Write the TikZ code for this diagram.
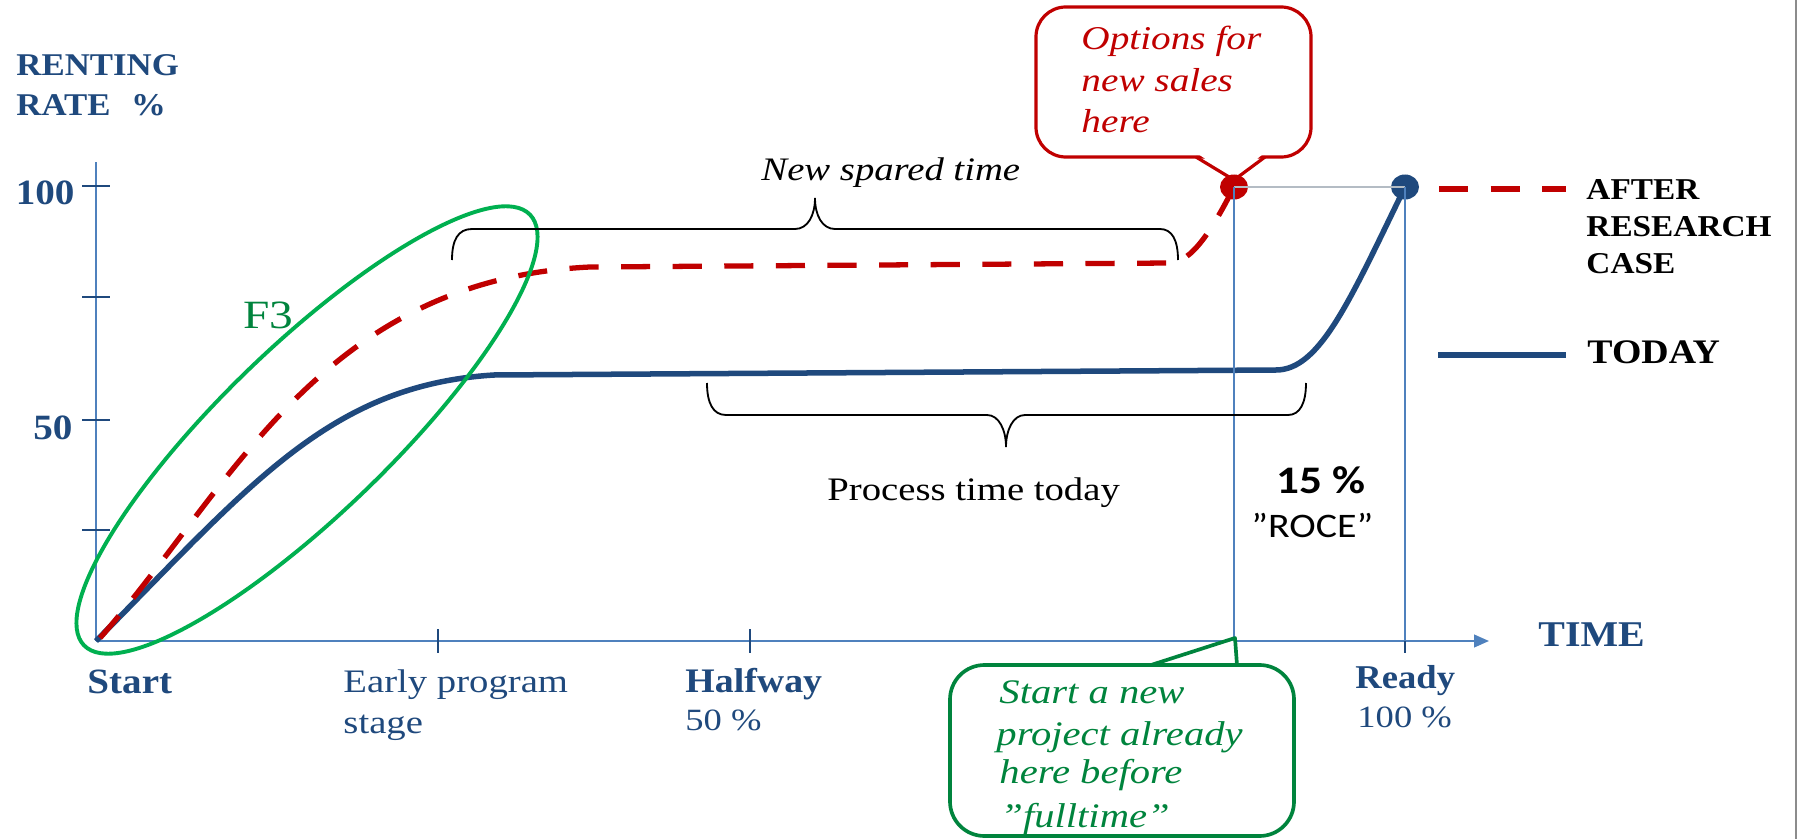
\documentclass[tikz,border=0pt]{standalone}
\usepackage{fontspec}
\setmainfont{Liberation Serif}[FakeStretch=1.18]
\newfontfamily\bfam{Liberation Serif}[FakeStretch=1.1]
\newfontfamily\calib{Carlito}[FakeStretch=1.16]
\usetikzlibrary{arrows.meta}
\definecolor{navy}{HTML}{1F497D}
\definecolor{axisblue}{HTML}{4F81BD}
\definecolor{darkred}{HTML}{C00000}
\definecolor{ellgreen}{HTML}{00B050}
\definecolor{txtgreen}{HTML}{00843D}
\definecolor{guidegray}{HTML}{B4BCC4}
\definecolor{edgegray}{HTML}{8C8C8C}
\newcommand\fsz[1]{\fontsize{#1}{#1}\selectfont}
\begin{document}
\begin{tikzpicture}[x=0.436pt,y=-0.436pt,
  lbl/.style={inner sep=0pt,anchor=base west},
  lble/.style={inner sep=0pt,anchor=base east},
  axisline/.style={axisblue,line width=0.9pt},
  tickline/.style={navy,line width=0.9pt},
  todaycurve/.style={navy,line width=2.4pt},
  aftercurve/.style={darkred,line width=2.3pt,dash pattern=on 12.7pt off 9.8pt},
  bracestyle/.style={black,line width=0.8pt},
  guide/.style={axisblue,line width=0.7pt},
  redcall/.style={darkred,line width=1.4pt},
  greencall/.style={txtgreen,line width=1.6pt},
  axislbl/.style={lbl,navy,font=\bfam\bfseries\fsz{15.5}},
  ticklbl/.style={lbl,navy,font=\fsz{14.3}},
  pctlbl/.style={lbl,navy,font=\fsz{13.5}},
  legendlbl/.style={lbl,black,font=\bfam\bfseries\fsz{13.2}},
  redtxt/.style={lbl,darkred,font=\itshape\fsz{14.5}},
  greentxt/.style={lbl,txtgreen,font=\itshape\fsz{15}}]
\fill[white] (0,0) rectangle (1798,839);
\useasboundingbox (0,0) rectangle (1798,839);
% slide edge
\draw[edgegray,line width=0.9pt] (1796,0) -- (1796,839);

% coordinates
\coordinate (org) at (96,641);
\coordinate (ytop) at (96,162);
\coordinate (xend) at (1489,641);
\coordinate (rdot) at (1234,187);
\coordinate (bdot) at (1405,187);
\coordinate (rfoot) at (1234,641);
\coordinate (bfoot) at (1405,641);

% axes
\draw[axisline] (org) -- (ytop);
\draw[axisline,-{Triangle[length=6.5pt,width=5.5pt]}] (org) -- (xend);
\foreach \yy in {186,297,420,530} \draw[tickline] (82,\yy) -- (110,\yy);
\foreach \xx in {438,750,1405} \draw[tickline] (\xx,629) -- (\xx,653);

% y-axis labels
\node[lbl,navy,font=\bfam\bfseries\fsz{13.8}] (ylab1) at (16,76) {RENTING};
\node[lbl,navy,font=\bfam\bfseries\fsz{13.8}] (ylab2) at (16,116) {RATE\hspace{9pt}\%};
\node[lble,navy,font=\bfam\bfseries\fsz{15.5}] (y100) at (75,204) {100};
\node[lble,navy,font=\bfam\bfseries\fsz{15.5}] (y50) at (73,439) {50};

% x-axis labels
\node[axislbl] (xstart) at (87,693) {Start};
\node[ticklbl] (xearly1) at (343,692) {Early program};
\node[ticklbl] (xearly2) at (343,733) {stage};
\node[axislbl,font=\bfam\bfseries\fsz{15}] (xhalf) at (685,692) {Halfway};
\node[pctlbl] (xhalfp) at (685,730) {50 \%};
\node[axislbl,font=\bfam\bfseries\fsz{14.5}] (xready) at (1355,688) {Ready};
\node[pctlbl] (xreadyp) at (1357,727) {100 \%};
\node[axislbl,font=\bfam\bfseries\fsz{15.8}] (xtime) at (1538,646) {TIME};

% curves
\draw[todaycurve] (org) .. controls (250,485) and (330,385) .. (494,375)
  -- (1276,370) .. controls (1320,370) and (1350,300) .. (bdot);
\draw[aftercurve] (100,638) .. controls (230,490) and (320,280) .. (590,267)
  -- (1170,263) .. controls (1192,262) and (1212,230) .. (rdot);

% red callout (drawn before the dot)
\draw[redcall,fill=white,rounded corners=13pt] (1036,7) rectangle (1311,157);
\fill[white] (1198,154) -- (1263,154) -- (1234,178) -- cycle;
\draw[redcall,line join=round] (1196,157) -- (1234,180) -- (1265,157);

% dots
\fill[darkred] (rdot) ellipse [x radius=14,y radius=12.5];
\fill[navy] (bdot) ellipse [x radius=14,y radius=12.5];
\draw[guidegray,line width=1.1pt] (rdot) -- (bdot);
\draw[guide] (rdot) -- (rfoot);
\draw[guide] (bdot) -- (bfoot);

% F3 ellipse
\draw[ellgreen,line width=1.7pt,rotate around={44:(307,430)}] (307,430) ellipse [x radius=310,y radius=84];
\node[lbl,txtgreen,font=\fsz{17.5}] (f3) at (243,328) {F3};

% braces
\draw[bracestyle] (452,260) .. controls (452,240) and (458,229) .. (472,229)
  -- (795,229) .. controls (808,229) and (815,215) .. (815,198)
  .. controls (815,215) and (822,229) .. (835,229)
  -- (1160,229) .. controls (1172,229) and (1178,240) .. (1178,260);
\node[lbl,black,font=\itshape\fsz{14.3}] (spared) at (761,180) {New spared time};
\draw[bracestyle] (707,383) .. controls (707,403) and (713,415) .. (726,415)
  -- (987,415) .. controls (999,415) and (1006,430) .. (1006,447)
  .. controls (1006,430) and (1013,415) .. (1025,415)
  -- (1288,415) .. controls (1300,415) and (1306,403) .. (1306,383);
\node[lbl,black,font=\itshape\fsz{14.3},font=\fsz{14.3}] (process) at (827,500) {Process time today};

% ROCE
\node[lbl,black,font=\calib\bfseries\fsz{17}] (roce1) at (1276,493) {15 \%};
\node[lbl,black,font=\calib\fsz{15}] (roce2) at (1251,537) {”ROCE”};

% redcall text
\node[redtxt] (opt1) at (1081,50) {Options for};
\node[redtxt] (opt2) at (1081,92) {new sales};
\node[redtxt] (opt3) at (1081,133) {here};

% green callout
\draw[greencall,fill=white,rounded corners=15pt] (950,665) rectangle (1294,836);
\fill[white] (1153,662) -- (1235,662) -- (1235,640) -- cycle;
\draw[greencall,line join=round] (1151,665) -- (1235,638) -- (1237,665);
\node[greentxt] (new1) at (999,703) {Start a new};
\node[greentxt] (new2) at (996,745) {project already};
\node[greentxt] (new3) at (999,783) {here before};
\node[greentxt] (new4) at (1000,827) {”fulltime”};

% legend
\coordinate (la1) at (1439,189);
\coordinate (la2) at (1566,189);
\coordinate (lb1) at (1438,355);
\coordinate (lb2) at (1566,355);
\draw[aftercurve] (la1) -- (la2);
\draw[todaycurve] (lb1) -- (lb2);
\node[legendlbl] (leg1) at (1586,200) {AFTER};
\node[legendlbl] (leg2) at (1586,237) {RESEARCH};
\node[legendlbl] (leg3) at (1586,273) {CASE};
\node[legendlbl,font=\bfam\bfseries\fsz{15}] (leg4) at (1587,363) {TODAY};
\end{tikzpicture}
\end{document}
